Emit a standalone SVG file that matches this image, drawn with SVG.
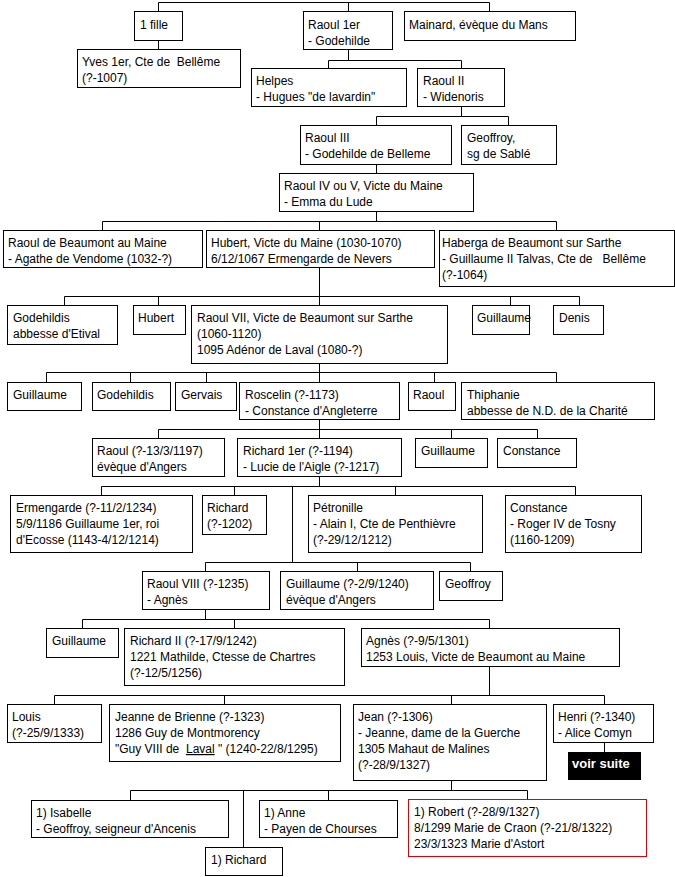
<svg xmlns="http://www.w3.org/2000/svg" width="675" height="877" viewBox="0 0 675 877">
<style>
  .b { fill: #fff; stroke: #000; stroke-width: 1; }
  .r { fill: #fff; stroke: #e00000; stroke-width: 1; }
  .k { fill: #000; stroke: #000; stroke-width: 1; }
  .c { fill: none; stroke: #000; stroke-width: 1; }
  text { font-family: "Liberation Sans", Arial, sans-serif; font-size: 12px; fill: #000; }
  .w { fill: #fff; font-weight: bold; font-size: 13px; }
</style>
<rect x="0" y="0" width="675" height="877" fill="#fff"/>
<g id="connectors">
  <path class="c" d="M158.5 2.5H489.5 M158.5 2.5V11 M348.5 2.5V11 M489.5 2.5V11"/>
  <path class="c" d="M158.5 40V49"/>
  <path class="c" d="M348.5 49V60.5 M328.5 60.5H461.5 M328.5 60.5V68 M461.5 60.5V68"/>
  <path class="c" d="M461.5 106V116.5 M376.5 116.5H508.5 M376.5 116.5V125 M508.5 116.5V125"/>
  <path class="c" d="M376.5 164V173"/>
  <path class="c" d="M376.5 211V221.5 M102.5 221.5H556.5 M102.5 221.5V230 M319.5 221.5V230 M556.5 221.5V230"/>
  <path class="c" d="M319.5 267V296.5 M64.5 296.5H579.5 M64.5 296.5V305 M158.5 296.5V305 M319.5 296.5V305 M510.5 296.5V305 M579.5 296.5V305"/>
  <path class="c" d="M319.5 363V372.5 M46.5 372.5H556.5 M46.5 372.5V382 M130.5 372.5V382 M206.5 372.5V382 M319.5 372.5V382 M434.5 372.5V382 M556.5 372.5V382"/>
  <path class="c" d="M319.5 419V429.5 M158.5 429.5H537.5 M158.5 429.5V438 M319.5 429.5V438 M451.5 429.5V438 M537.5 429.5V438"/>
  <path class="c" d="M319.5 476V486.5 M101.5 486.5H575.5 M101.5 486.5V495 M234.5 486.5V495 M395.5 486.5V495 M575.5 486.5V495 M292.5 486.5V562.5"/>
  <path class="c" d="M205.5 562.5H470.5 M205.5 562.5V571 M357.5 562.5V571 M470.5 562.5V571"/>
  <path class="c" d="M205.5 609V619.5 M82.5 619.5H489.5 M82.5 619.5V628 M234.5 619.5V628 M489.5 619.5V628"/>
  <path class="c" d="M489.5 666V695.5 M54.5 695.5H604.5 M54.5 695.5V704 M224.5 695.5V704 M451.5 695.5V704 M604.5 695.5V704"/>
  <path class="c" d="M604.5 742V752"/>
  <path class="c" d="M451.5 780V790.5 M130.5 790.5H527.5 M130.5 790.5V800 M243.5 790.5V847 M328.5 790.5V800 M527.5 790.5V799"/>
</g>
<g id="n1"><rect class="b" x="134.5" y="11.5" width="48" height="29"/><text x="140" y="29">1 fille</text></g>
<g id="n2"><rect class="b" x="77.5" y="49.5" width="163" height="38"/><text x="82" y="66" xml:space="preserve">Yves 1er, Cte de  Bellême</text><text x="82" y="82">(?-1007)</text></g>
<g id="n3"><rect class="b" x="303.5" y="11.5" width="89" height="38"/><text x="308" y="29">Raoul 1er</text><text x="308" y="45">- Godehilde</text></g>
<g id="n4"><rect class="b" x="404.5" y="11.5" width="171" height="29"/><text x="409" y="29">Mainard, évèque du Mans</text></g>
<g id="n5"><rect class="b" x="251.5" y="68.5" width="155" height="38"/><text x="256" y="85">Helpes</text><text x="256" y="101">- Hugues "de lavardin"</text></g>
<g id="n6"><rect class="b" x="417.5" y="68.5" width="87" height="38"/><text x="423" y="85">Raoul II</text><text x="423" y="101">- Widenoris</text></g>
<g id="n7"><rect class="b" x="300.5" y="125.5" width="151" height="39"/><text x="305" y="142">Raoul III</text><text x="305" y="158">- Godehilde de Belleme</text></g>
<g id="n8"><rect class="b" x="461.5" y="125.5" width="95" height="39"/><text x="467" y="142">Geoffroy,</text><text x="467" y="158">sg de Sablé</text></g>
<g id="n9"><rect class="b" x="279.5" y="173.5" width="194" height="38"/><text x="284" y="190">Raoul IV ou V, Victe du Maine</text><text x="284" y="206">- Emma du Lude</text></g>
<g id="n10"><rect class="b" x="3.5" y="230.5" width="199" height="37"/><text x="8" y="247">Raoul de Beaumont au Maine</text><text x="8" y="263">- Agathe de Vendome (1032-?)</text></g>
<g id="n11"><rect class="b" x="206.5" y="230.5" width="228" height="37"/><text x="211" y="247">Hubert, Victe du Maine (1030-1070)</text><text x="211" y="263">6/12/1067 Ermengarde de Nevers</text></g>
<g id="n12"><rect class="b" x="439.5" y="230.5" width="235" height="56"/><text x="442" y="247">Haberga de Beaumont sur Sarthe</text><text x="442" y="263" xml:space="preserve">- Guillaume II Talvas, Cte de   Bellême</text><text x="442" y="279">(?-1064)</text></g>
<g id="n13"><rect class="b" x="7.5" y="305.5" width="110" height="39"/><text x="13" y="322">Godehildis</text><text x="13" y="338">abbesse d'Etival</text></g>
<g id="n14"><rect class="b" x="133.5" y="305.5" width="52" height="29"/><text x="138" y="322">Hubert</text></g>
<g id="n15"><rect class="b" x="191.5" y="305.5" width="256" height="58"/><text x="197" y="322">Raoul VII, Victe de Beaumont sur Sarthe</text><text x="197" y="338">(1060-1120)</text><text x="197" y="354">1095 Adénor de Laval (1080-?)</text></g>
<g id="n16"><rect class="b" x="472.5" y="305.5" width="57" height="29"/><text x="477" y="322">Guillaume</text></g>
<g id="n17"><rect class="b" x="553.5" y="305.5" width="50" height="29"/><text x="559" y="322">Denis</text></g>
<g id="n18"><rect class="b" x="7.5" y="382.5" width="74" height="28"/><text x="13" y="399">Guillaume</text></g>
<g id="n19"><rect class="b" x="92.5" y="382.5" width="78" height="28"/><text x="97" y="399">Godehildis</text></g>
<g id="n20"><rect class="b" x="175.5" y="382.5" width="61" height="28"/><text x="181" y="399">Gervais</text></g>
<g id="n21"><rect class="b" x="239.5" y="382.5" width="160" height="37"/><text x="245" y="399">Roscelin (?-1173)</text><text x="245" y="415">- Constance d'Angleterre</text></g>
<g id="n22"><rect class="b" x="408.5" y="382.5" width="47" height="28"/><text x="413" y="399">Raoul</text></g>
<g id="n23"><rect class="b" x="461.5" y="382.5" width="193" height="37"/><text x="467" y="399">Thiphanie</text><text x="467" y="415">abbesse de N.D. de la Charité</text></g>
<g id="n24"><rect class="b" x="92.5" y="438.5" width="132" height="38"/><text x="97" y="455">Raoul (?-13/3/1197)</text><text x="97" y="471">évèque d'Angers</text></g>
<g id="n25"><rect class="b" x="237.5" y="438.5" width="164" height="38"/><text x="243" y="455">Richard 1er (?-1194)</text><text x="243" y="471">- Lucie de l'Aigle (?-1217)</text></g>
<g id="n26"><rect class="b" x="415.5" y="438.5" width="72" height="29"/><text x="421" y="455">Guillaume</text></g>
<g id="n27"><rect class="b" x="497.5" y="438.5" width="79" height="29"/><text x="503" y="455">Constance</text></g>
<g id="n28"><rect class="b" x="10.5" y="495.5" width="182" height="57"/><text x="16" y="512">Ermengarde (?-11/2/1234)</text><text x="16" y="528">5/9/1186 Guillaume 1er, roi</text><text x="16" y="544">d'Ecosse (1143-4/12/1214)</text></g>
<g id="n29"><rect class="b" x="202.5" y="495.5" width="64" height="39"/><text x="207" y="512">Richard</text><text x="207" y="528">(?-1202)</text></g>
<g id="n30"><rect class="b" x="308.5" y="495.5" width="174" height="57"/><text x="313" y="512">Pétronille</text><text x="313" y="528">- Alain I, Cte de Penthièvre</text><text x="313" y="544">(?-29/12/1212)</text></g>
<g id="n31"><rect class="b" x="505.5" y="495.5" width="136" height="57"/><text x="510" y="512">Constance</text><text x="510" y="528">- Roger IV de Tosny</text><text x="510" y="544">(1160-1209)</text></g>
<g id="n32"><rect class="b" x="142.5" y="571.5" width="127" height="38"/><text x="147" y="588">Raoul VIII (?-1235)</text><text x="147" y="604">- Agnès</text></g>
<g id="n33"><rect class="b" x="280.5" y="571.5" width="153" height="38"/><text x="286" y="588">Guillaume (?-2/9/1240)</text><text x="286" y="604">évèque d'Angers</text></g>
<g id="n34"><rect class="b" x="439.5" y="571.5" width="63" height="29"/><text x="445" y="588">Geoffroy</text></g>
<g id="n35"><rect class="b" x="46.5" y="628.5" width="72" height="29"/><text x="52" y="645">Guillaume</text></g>
<g id="n36"><rect class="b" x="124.5" y="628.5" width="220" height="57"/><text x="130" y="645">Richard II (?-17/9/1242)</text><text x="130" y="661">1221 Mathilde, Ctesse de Chartres</text><text x="130" y="677">(?-12/5/1256)</text></g>
<g id="n37"><rect class="b" x="361.5" y="628.5" width="258" height="38"/><text x="366" y="645">Agnès (?-9/5/1301)</text><text x="366" y="661">1253 Louis, Victe de Beaumont au Maine</text></g>
<g id="n38"><rect class="b" x="7.5" y="704.5" width="94" height="38"/><text x="12" y="721">Louis</text><text x="12" y="737">(?-25/9/1333)</text></g>
<g id="n39"><rect class="b" x="109.5" y="704.5" width="231" height="57"/><text x="115" y="721">Jeanne de Brienne (?-1323)</text><text x="115" y="737">1286 Guy de Montmorency</text><text x="115" y="753" xml:space="preserve">"Guy VIII de  <tspan text-decoration="underline">Laval</tspan> " (1240-22/8/1295)</text></g>
<g id="n40"><rect class="b" x="353.5" y="704.5" width="193" height="76"/><text x="358" y="721">Jean (?-1306)</text><text x="358" y="737">- Jeanne, dame de la Guerche</text><text x="358" y="753">1305 Mahaut de Malines</text><text x="358" y="769">(?-28/9/1327)</text></g>
<g id="n41"><rect class="b" x="553.5" y="704.5" width="100" height="38"/><text x="558" y="721">Henri (?-1340)</text><text x="558" y="737">- Alice Comyn</text></g>
<g id="n42"><rect class="k" x="568.5" y="752.5" width="72" height="27"/><text class="w" x="572" y="768">voir suite</text></g>
<g id="n43"><rect class="b" x="31.5" y="800.5" width="197" height="37"/><text x="36" y="817">1) Isabelle</text><text x="36" y="833">- Geoffroy, seigneur d'Ancenis</text></g>
<g id="n44"><rect class="b" x="205.5" y="847.5" width="77" height="28"/><text x="211" y="864">1) Richard</text></g>
<g id="n45"><rect class="b" x="259.5" y="800.5" width="138" height="37"/><text x="264" y="817">1) Anne</text><text x="264" y="833">- Payen de Chourses</text></g>
<g id="n46"><rect class="r" x="408.5" y="799.5" width="238" height="57"/><text x="414" y="816">1) Robert (?-28/9/1327)</text><text x="414" y="832">8/1299 Marie de Craon (?-21/8/1322)</text><text x="414" y="848">23/3/1323 Marie d'Astort</text></g>
</svg>
